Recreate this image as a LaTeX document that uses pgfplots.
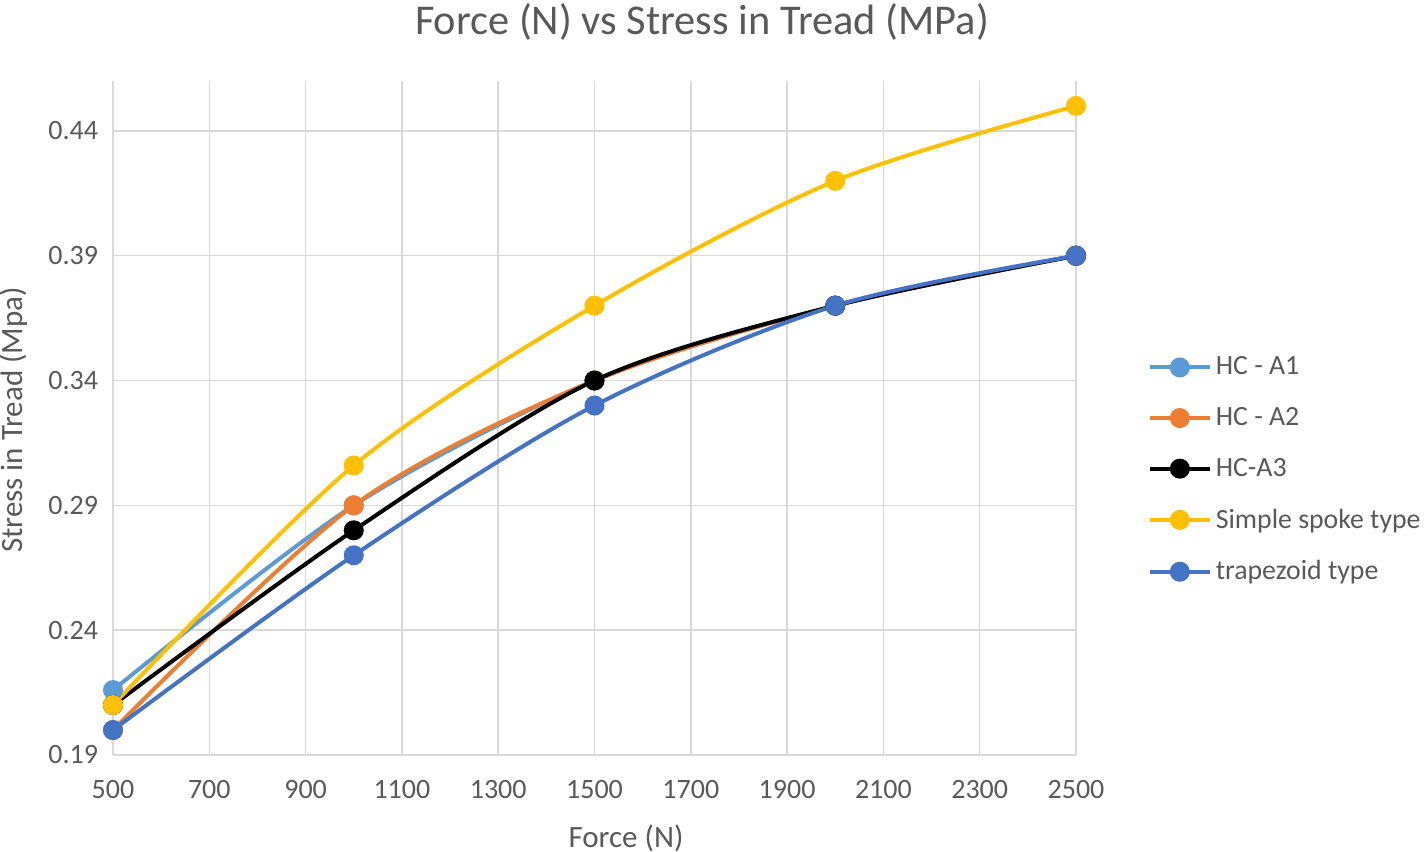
\documentclass[border=0pt]{standalone}
\usepackage{pgfplots}
\pgfplotsset{compat=1.18}
\usepackage{fontspec}
\setmainfont{Carlito}
\definecolor{txt}{HTML}{595959}
\definecolor{gridc}{HTML}{D9D9D9}
\definecolor{hcaone}{HTML}{5B9BD5}
\definecolor{hcatwo}{HTML}{ED7D31}
\definecolor{spoke}{HTML}{FFC000}
\definecolor{trap}{HTML}{4472C4}
\begin{document}
\begin{tikzpicture}
\path[use as bounding box] (-56.5bp,-48.5bp) rectangle (655.5bp,377.5bp);
\begin{axis}[
  at={(0,0)}, anchor=south west,
  scale only axis, width=481.5bp, height=337bp,
  xmin=500, xmax=2500, ymin=0.19, ymax=0.46,
  xtick={500,700,...,2500},
  ytick={0.19,0.24,0.29,0.34,0.39,0.44},
  grid=major,
  major grid style={gridc, line width=0.75bp},
  axis line style={draw=none},
  major tick length=0pt,
  ticklabel style={font=\fontsize{14bp}{16bp}\selectfont, text=txt},
  yticklabel style={/pgf/number format/.cd, fixed, precision=2, fixed zerofill, assume math mode=true},
  xticklabel style={/pgf/number format/.cd, 1000 sep={}, assume math mode=true},
  xticklabel shift=9bp, yticklabel shift=4bp,
  every axis plot/.append style={line width=2bp, mark=*, mark size=4bp, smooth},
  legend style={draw=none, at={(1.068,0.603)}, anchor=north west,
    font=\fontsize{13.9bp}{16bp}\selectfont, text=txt,
    row sep=10.8bp, cells={anchor=west}},
  legend image code/.code={\draw[mark repeat=2,mark phase=2,#1] plot coordinates {(0bp,0bp) (15bp,0bp) (30bp,0bp)};},
]
\addplot[hcaone, mark options={fill=hcaone}] coordinates {(500,0.216) (1000,0.29) (1500,0.34) (2000,0.37) (2500,0.39)};
\addlegendentry{HC - A1}
\addplot[hcatwo, mark options={fill=hcatwo}] coordinates {(500,0.20) (1000,0.29) (1500,0.34) (2000,0.37) (2500,0.39)};
\addlegendentry{HC - A2}
\addplot[black, mark options={fill=black}] coordinates {(500,0.21) (1000,0.28) (1500,0.34) (2000,0.37) (2500,0.39)};
\addlegendentry{HC-A3}
\addplot[spoke, mark options={fill=spoke}] coordinates {(500,0.21) (1000,0.306) (1500,0.37) (2000,0.42) (2500,0.45)};
\addlegendentry{Simple spoke type}
\addplot[trap, mark options={fill=trap}] coordinates {(500,0.20) (1000,0.27) (1500,0.33) (2000,0.37) (2500,0.39)};
\addlegendentry{trapezoid type}
\end{axis}
\node[text=txt, font=\fontsize{21.2bp}{24bp}\selectfont] at (294.5bp,366.5bp) {Force (N) vs Stress in Tread (MPa)};
\node[text=txt, font=\fontsize{15.5bp}{18bp}\selectfont] at (256.5bp,-41.5bp) {Force (N)};
\node[text=txt, font=\fontsize{15.5bp}{18bp}\selectfont, rotate=90] at (-49.5bp,167.5bp) {Stress in Tread (Mpa)};
\end{tikzpicture}
\end{document}
